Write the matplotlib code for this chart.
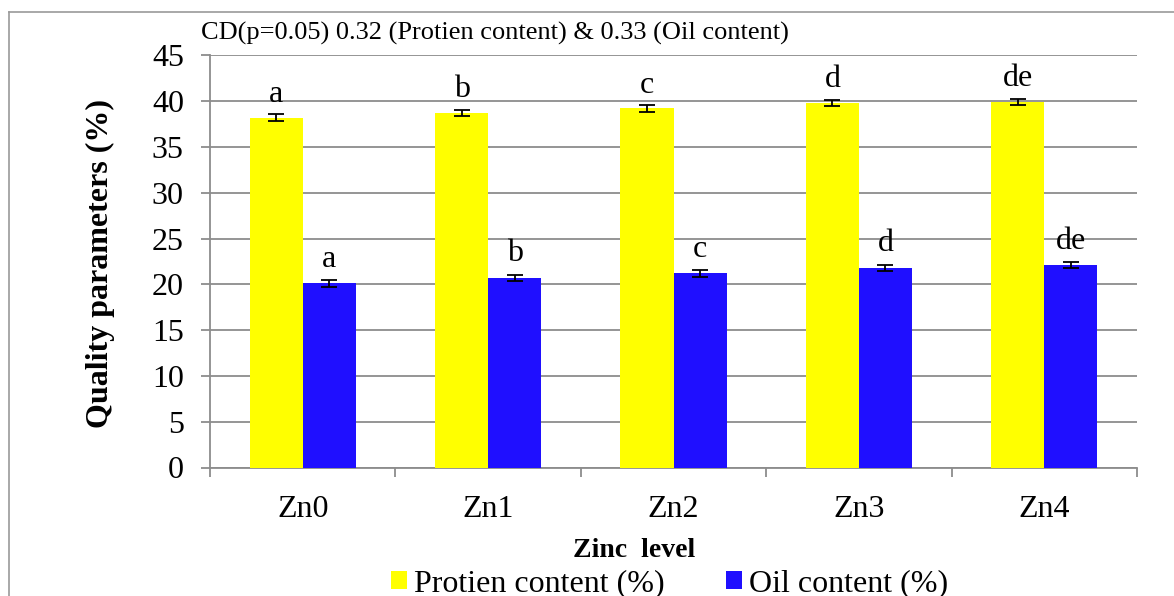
import numpy as np
import matplotlib
matplotlib.use("Agg")
import matplotlib.pyplot as plt
from matplotlib.patches import Patch
from matplotlib.lines import Line2D

plt.rcParams['font.family'] = ['Liberation Serif', 'DejaVu Serif']

# data
levels = ['Zn0', 'Zn1', 'Zn2', 'Zn3', 'Zn4']
protein = [38.2, 38.7, 39.2, 39.8, 39.9]
oil = [20.1, 20.7, 21.2, 21.8, 22.1]
protein_err = [0.35, 0.35, 0.35, 0.35, 0.35]
oil_err = [0.35, 0.35, 0.35, 0.35, 0.35]
protein_letters = ['a', 'b', 'c', 'd', 'de']
oil_letters = ['a', 'b', 'c', 'd', 'de']
note = 'CD(p=0.05) 0.32 (Protien content) & 0.33 (Oil content)'

yellow = '#FFFF00'
blue = '#1F0FFF'
grey = '#8C8C8C'

fig = plt.figure(figsize=(11.74, 5.96), dpi=100)
ax = fig.add_axes([210 / 1174, 1 - 467.5 / 596, 927 / 1174, 412.2 / 596])

x = np.arange(len(levels))
w = 0.286
ax.bar(x - w / 2, protein, w, color=yellow, zorder=3)
ax.bar(x + w / 2, oil, w, color=blue, zorder=3)
ax.errorbar(x - w / 2, protein, yerr=protein_err, fmt='none', ecolor='black',
            elinewidth=1.3, capsize=5.5, capthick=1.3, zorder=4)
ax.errorbar(x + w / 2, oil, yerr=oil_err, fmt='none', ecolor='black',
            elinewidth=1.3, capsize=5.5, capthick=1.3, zorder=4)

# significance letters
for i in range(len(levels)):
    ax.text(x[i] - w / 2, protein[i] + 1.7, protein_letters[i], ha='center',
            va='baseline', fontsize=23)
    ax.text(x[i] + w / 2, oil[i] + 1.8, oil_letters[i], ha='center',
            va='baseline', fontsize=23)

ax.set_xlim(-0.5, len(levels) - 0.5)
ax.set_ylim(0, 45)
ax.set_yticks(np.arange(0, 46, 5))
ax.yaxis.grid(True, color=grey, linewidth=1.3, zorder=0)
ax.set_axisbelow(True)

ax.set_xticks(np.arange(-0.5, len(levels), 1.0))
ax.set_xticklabels([])
ax.set_xticks(x, minor=True)
ax.set_xticklabels(levels, minor=True)
ax.tick_params(axis='x', which='major', length=6.5, width=1.3, color=grey)
ax.tick_params(axis='x', which='minor', length=0, pad=20, labelsize=23)
ax.tick_params(axis='y', length=6.8, width=1.3, color=grey, pad=12, labelsize=23)

for s in ['top', 'right']:
    ax.spines[s].set_visible(False)
for s in ['left', 'bottom']:
    ax.spines[s].set_color(grey)
    ax.spines[s].set_linewidth(1.3)

fig.text(100 / 1174, 1 - 263 / 596, 'Quality parameters (%)', rotation=90,
         ha='center', va='center', fontsize=23, fontweight='bold')
fig.text(634 / 1174, 1 - 556.7 / 596, 'Zinc  level', ha='center',
         va='baseline', fontsize=20, fontweight='bold')
fig.text(201 / 1174, 1 - 40 / 596, note, ha='left', va='baseline', fontsize=19)

handles = [Patch(facecolor=yellow, label='Protien content (%)'),
           Patch(facecolor=blue, label='Oil content (%)')]
fig.legend(handles=handles, loc='center', bbox_to_anchor=(669.5 / 1174, 1 - 583.6 / 596),
           ncol=2, frameon=False, fontsize=23, handlelength=0.5, handleheight=0.5,
           handletextpad=0.22, columnspacing=1.9, borderpad=0, borderaxespad=0)

# outer chart frame (partly outside the picture)
fig.add_artist(Line2D([9 / 1174, 9 / 1174], [0, 1 - 12 / 596], color='#9A9A9A', lw=1.2))
fig.add_artist(Line2D([9 / 1174, 1], [1 - 12 / 596, 1 - 12 / 596], color='#9A9A9A', lw=1.2))

fig.savefig('out.png', dpi=100)
